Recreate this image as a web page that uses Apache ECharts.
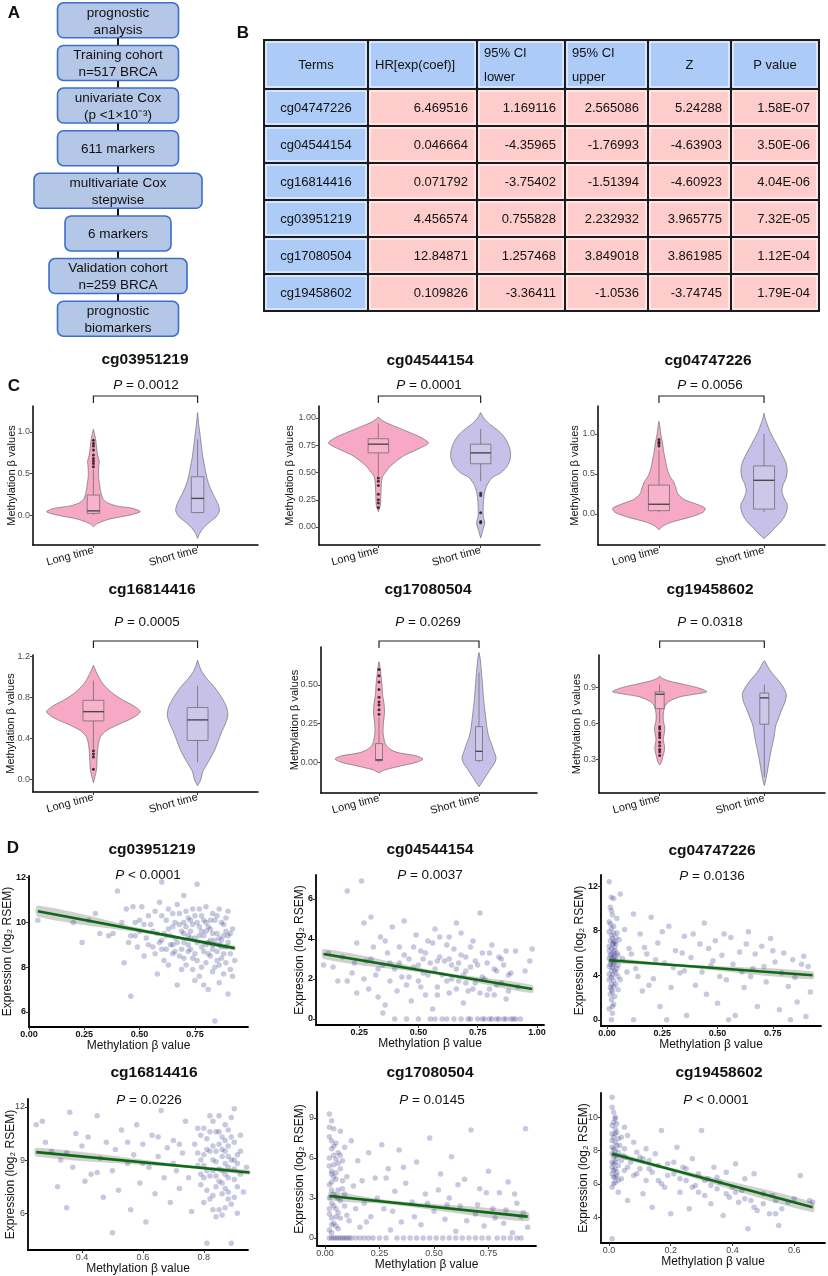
<!DOCTYPE html>
<html lang="en">
<head>
<meta charset="UTF-8">
<title>Prognostic methylation markers</title>
<style>
    html, body { margin: 0; padding: 0; background: #fff; }
    #main { width: 828px; height: 1276px; }
</style>
</head>
<body>
<div id="main"></div>
<script src="https://cdn.jsdelivr.net/npm/echarts@6/dist/echarts.min.js"></script>
<script>
// ---------- A: workflow ----------
var flowSteps = ['prognostic\nanalysis', 'Training cohort\nn=517 BRCA', 'univariate Cox\n(p <1×10⁻³)', '611 markers',
    'multivariate Cox\nstepwise', '6 markers', 'Validation cohort\nn=259 BRCA', 'prognostic\nbiomarkers'];

// ---------- B: multivariate Cox table ----------
var tableHeader = ['Terms', 'HR[exp(coef)]', '95% CI\nlower', '95% CI\nupper', 'Z', 'P value'];
var terms   = ['cg04747226', 'cg04544154', 'cg16814416', 'cg03951219', 'cg17080504', 'cg19458602'];
var hr      = ['6.469516', '0.046664', '0.071792', '4.456574', '12.84871', '0.109826'];
var ciLower = ['1.169116', '-4.35965', '-3.75402', '0.755828', '1.257468', '-3.36411'];
var ciUpper = ['2.565086', '-1.76993', '-1.51394', '2.232932', '3.849018', '-1.0536'];
var zScore  = ['5.24288', '-4.63903', '-4.60923', '3.965775', '3.861985', '-3.74745'];
var pValue  = ['1.58E-07', '3.50E-06', '4.04E-06', '7.32E-05', '1.12E-04', '1.79E-04'];

// ---------- C: violins (Long time vs Short time) ----------
var groups = ['Long time', 'Short time'];
var violinMarkers = ['cg03951219', 'cg04544154', 'cg04747226', 'cg16814416', 'cg17080504', 'cg19458602'];
var violinP = ['0.0012', '0.0001', '0.0056', '0.0005', '0.0269', '0.0318'];
// [beta value, half width] from bottom to top
var longShape = [
    [[-0.14,0],[-0.1,0.04],[-0.05,0.15],[0,0.35],[0.04,0.45],[0.08,0.38],[0.11,0.22],[0.15,0.13],[0.2,0.09],[0.28,0.07],[0.36,0.06],[0.46,0.05],[0.56,0.05],[0.65,0.055],[0.72,0.04],[0.82,0.03],[0.92,0.02],[0.98,0.01],[1.03,0]],
    [[0.14,0],[0.2,0.02],[0.3,0.025],[0.4,0.03],[0.46,0.04],[0.5,0.07],[0.55,0.11],[0.6,0.17],[0.66,0.26],[0.72,0.4],[0.77,0.49],[0.82,0.42],[0.87,0.3],[0.92,0.17],[0.96,0.07],[0.99,0.02],[1.01,0]],
    [[-0.2,0],[-0.15,0.04],[-0.1,0.13],[-0.04,0.3],[0.02,0.42],[0.07,0.44],[0.12,0.36],[0.18,0.24],[0.25,0.18],[0.33,0.16],[0.4,0.14],[0.48,0.1],[0.58,0.075],[0.68,0.06],[0.78,0.045],[0.88,0.035],[0.98,0.02],[1.08,0.01],[1.16,0]],
    [[-0.03,0],[0.03,0.015],[0.1,0.03],[0.2,0.035],[0.28,0.04],[0.36,0.05],[0.42,0.07],[0.48,0.13],[0.54,0.25],[0.6,0.38],[0.66,0.45],[0.72,0.38],[0.78,0.27],[0.85,0.17],[0.92,0.1],[0.98,0.06],[1.05,0.025],[1.11,0]],
    [[-0.07,0],[-0.05,0.06],[-0.02,0.25],[0,0.38],[0.02,0.44],[0.04,0.38],[0.06,0.2],[0.08,0.12],[0.11,0.07],[0.15,0.05],[0.2,0.04],[0.26,0.045],[0.32,0.055],[0.38,0.05],[0.44,0.035],[0.5,0.03],[0.56,0.02],[0.62,0.01],[0.65,0]],
    [[0.25,0],[0.28,0.02],[0.32,0.03],[0.37,0.045],[0.41,0.045],[0.46,0.035],[0.52,0.045],[0.56,0.05],[0.62,0.035],[0.68,0.035],[0.74,0.05],[0.78,0.09],[0.82,0.2],[0.86,0.45],[0.89,0.38],[0.92,0.24],[0.95,0.09],[0.97,0.03],[0.99,0]]
];
var shortShape = [
    [[-0.28,0],[-0.22,0.02],[-0.15,0.06],[-0.08,0.12],[-0.02,0.18],[0.05,0.21],[0.12,0.2],[0.2,0.17],[0.3,0.13],[0.4,0.1],[0.5,0.08],[0.6,0.065],[0.7,0.05],[0.8,0.04],[0.9,0.03],[1,0.02],[1.1,0.01],[1.23,0]],
    [[-0.1,0],[-0.05,0.015],[0,0.03],[0.04,0.04],[0.1,0.025],[0.2,0.025],[0.3,0.035],[0.38,0.06],[0.45,0.11],[0.5,0.2],[0.56,0.26],[0.63,0.29],[0.7,0.29],[0.78,0.26],[0.85,0.21],[0.9,0.15],[0.95,0.08],[1,0.03],[1.05,0]],
    [[-0.31,0],[-0.25,0.05],[-0.18,0.1],[-0.1,0.16],[-0.02,0.2],[0.06,0.22],[0.12,0.22],[0.2,0.19],[0.28,0.17],[0.36,0.18],[0.45,0.21],[0.55,0.22],[0.63,0.21],[0.72,0.18],[0.82,0.14],[0.92,0.1],[1.02,0.06],[1.12,0.03],[1.2,0.01],[1.26,0]],
    [[-0.06,0],[0,0.03],[0.08,0.05],[0.15,0.09],[0.22,0.13],[0.3,0.17],[0.38,0.2],[0.46,0.23],[0.55,0.27],[0.62,0.29],[0.7,0.28],[0.8,0.23],[0.9,0.16],[0.98,0.09],[1.05,0.04],[1.11,0.015],[1.16,0]],
    [[-0.16,0],[-0.13,0.03],[-0.09,0.07],[-0.04,0.12],[0,0.16],[0.03,0.17],[0.07,0.15],[0.11,0.13],[0.16,0.1],[0.22,0.08],[0.3,0.065],[0.38,0.05],[0.46,0.04],[0.54,0.03],[0.62,0.02],[0.68,0.01],[0.71,0]],
    [[0.08,0],[0.13,0.015],[0.2,0.03],[0.28,0.045],[0.35,0.06],[0.43,0.08],[0.5,0.095],[0.58,0.11],[0.65,0.14],[0.72,0.17],[0.78,0.2],[0.84,0.21],[0.9,0.18],[0.96,0.13],[1.01,0.08],[1.06,0.04],[1.1,0.015],[1.12,0]]
];
// [lower whisker, Q1, median, Q3, upper whisker]
var longBox  = [[0,0.02,0.05,0.24,0.55],[0.47,0.68,0.76,0.81,0.95],[0.02,0.04,0.12,0.36,0.8],[0.3,0.57,0.66,0.77,0.96],[0,0.01,0.015,0.12,0.29],[0.6,0.72,0.84,0.86,0.92]];
var shortBox = [[0.02,0.03,0.2,0.46,0.91],[0.42,0.58,0.68,0.76,0.9],[0.02,0.06,0.42,0.6,1.0],[0.17,0.38,0.58,0.7,0.91],[0,0.01,0.07,0.23,0.58],[0.15,0.59,0.81,0.85,0.92]];
var longOutliers = [
    [0.58,0.62,0.65,0.68,0.72,0.78,0.83,0.86,0.9],
    [0.18,0.22,0.25,0.3,0.38,0.42,0.45],
    [0.85,0.88,0.9,0.93],
    [0.1,0.22,0.25,0.28],
    [0.31,0.34,0.37,0.39,0.42,0.47,0.52,0.56,0.6],
    [0.33,0.36,0.38,0.41,0.44,0.48,0.5,0.52,0.55,0.57]
];
var shortOutliers = [[], [0.04,0.05,0.13,0.29,0.31], [], [], [], []];
var violinYRange = [[-0.36,1.31],[-0.165,1.11],[-0.39,1.35],[-0.12,1.21],[-0.2,0.746],[0.017,1.167]];
var violinTicks  = [[0,0.5,1],[0,0.25,0.5,0.75,1],[0,0.5,1],[0,0.4,0.8,1.2],[0,0.25,0.5],[0.3,0.6,0.9]];
var violinDigits = [1,2,1,1,2,1];

// ---------- D: expression vs methylation ----------
var scatterMarkers = ['cg03951219', 'cg04544154', 'cg04747226', 'cg16814416', 'cg17080504', 'cg19458602'];
var scatterP = ['< 0.0001', '= 0.0037', '= 0.0136', '= 0.0226', '= 0.0145', '< 0.0001'];
var pts03951219 = [[0.04,10.1],[0.2,10.0],[0.24,9.1],[0.27,10.1],[0.3,10.4],[0.32,9.5],[0.36,9.4],[0.38,9.5],[0.4,11.4],[0.42,10.0],[0.43,8.2],[0.44,10.6],[0.45,9.1],[0.46,6.7],[0.47,10.7],[0.48,9.4],[0.49,8.9],[0.5,10.1],[0.5,9.6],[0.51,10.7],[0.52,8.5],[0.53,9.3],[0.54,10.3],[0.55,9.9],[0.56,8.9],[0.57,10.5],[0.58,9.5],[0.58,7.7],[0.59,10.9],[0.6,9.2],[0.6,11.8],[0.61,8.3],[0.62,10.1],[0.63,9.7],[0.64,9.0],[0.65,10.4],[0.65,8.6],[0.66,9.3],[0.67,10.8],[0.67,7.2],[0.68,9.9],[0.69,8.8],[0.7,9.5],[0.7,11.2],[0.71,8.1],[0.72,10.2],[0.72,9.0],[0.73,9.6],[0.74,7.9],[0.74,10.6],[0.75,8.6],[0.75,9.3],[0.76,11.7],[0.77,9.8],[0.77,7.6],[0.78,8.9],[0.78,10.3],[0.79,9.4],[0.8,8.2],[0.8,10.0],[0.81,9.1],[0.81,7.0],[0.82,9.7],[0.82,8.5],[0.83,10.4],[0.83,9.0],[0.84,8.0],[0.84,5.6],[0.85,9.5],[0.85,8.7],[0.86,10.6],[0.86,7.3],[0.87,9.2],[0.87,8.4],[0.88,9.9],[0.88,7.7],[0.89,8.9],[0.9,9.4],[0.9,6.8],[0.91,8.6],[0.92,9.7],[0.92,7.6],[0.93,8.3],[0.62,9.4],[0.66,8.7],[0.7,8.4],[0.73,8.8],[0.76,9.1],[0.79,8.7],[0.83,8.8],[0.86,9.0],[0.89,9.6],[0.71,9.8],[0.76,10.0],[0.8,9.6],
    [0.56,9.6],[0.57,8.6],[0.59,9.1],[0.6,10.3],[0.61,9.5],[0.62,8.8],[0.63,10.6],[0.64,9.4],[0.65,9.8],[0.66,10.0],[0.67,9.1],[0.68,8.5],[0.68,10.4],[0.69,9.6],[0.7,9.1],[0.71,10.5],[0.72,8.7],[0.73,10.1],[0.73,9.3],[0.74,8.4],[0.74,9.9],[0.75,10.3],[0.76,8.3],[0.77,9.4],[0.77,10.6],[0.78,9.6],[0.78,8.0],[0.79,10.1],[0.8,9.0],[0.8,10.7],[0.81,9.8],[0.81,8.6],[0.82,10.1],[0.82,9.2],[0.83,9.5],[0.83,7.8],[0.84,9.2],[0.84,10.1],[0.85,8.3],[0.85,10.3],[0.86,9.3],[0.86,8.1],[0.87,10.0],[0.87,8.9],[0.88,9.4],[0.88,8.6],[0.89,10.2],[0.89,8.2],[0.9,9.1],[0.9,10.5],[0.91,9.5],[0.91,7.9],[0.52,9.9],[0.54,9.0],[0.48,10.0],[0.46,9.4],[0.63,8.1],[0.69,7.9],[0.75,7.4],[0.79,7.2],[0.65,9.0],[0.7,10.0],[0.72,9.4],[0.6,8.8]];
var pts04544154 = [[0.1,2.7],[0.12,3.3],[0.14,2.6],[0.16,1.9],[0.18,3.1],[0.2,1.9],[0.2,6.4],[0.22,2.3],[0.24,3.8],[0.24,1.3],[0.26,6.9],[0.27,4.8],[0.28,2.9],[0.29,1.5],[0.3,5.1],[0.31,3.6],[0.32,2.2],[0.33,1.1],[0.34,4.1],[0.35,2.7],[0.36,0.7],[0.37,3.3],[0.38,1.9],[0.39,4.6],[0.4,2.5],[0.41,1.4],[0.42,3.6],[0.43,2.1],[0.44,4.9],[0.45,1.7],[0.46,3.0],[0.47,0.9],[0.48,2.6],[0.49,4.2],[0.5,1.9],[0.51,3.4],[0.52,2.3],[0.53,1.2],[0.54,3.9],[0.55,2.8],[0.56,0.5],[0.57,4.5],[0.58,1.6],[0.59,3.1],[0.6,2.2],[0.6,0],[0.62,3.7],[0.63,1.3],[0.64,2.7],[0.65,0],[0.66,4.8],[0.67,1.9],[0.68,3.2],[0.69,0.8],[0.7,2.4],[0.71,0],[0.72,3.6],[0.73,1.5],[0.74,2.9],[0.75,0],[0.76,5.3],[0.77,2.1],[0.78,0],[0.79,1.2],[0.8,3.3],[0.81,0],[0.82,2.5],[0.83,1.7],[0.84,0],[0.85,3.0],[0.86,0],[0.87,1.0],[0.88,2.2],[0.89,0],[0.9,0],[0.91,3.4],[0.92,1.6],[0.93,0],[0.95,2.4],[0.97,2.9],[0.98,3.5],[0.5,0],[0.55,0],[0.45,0],[0.4,0],[0.35,0.3],[0.63,4.1],[0.58,2.9],[0.52,3.0],[0.66,2.5],[0.7,1.8],
    [0.42,2.8],[0.44,3.2],[0.46,2.1],[0.48,3.6],[0.5,2.7],[0.51,1.6],[0.53,3.3],[0.54,2.2],[0.56,3.8],[0.57,2.5],[0.58,1.2],[0.59,4.1],[0.61,2.9],[0.62,1.9],[0.63,3.0],[0.64,2.0],[0.65,3.5],[0.66,1.5],[0.67,2.8],[0.68,4.3],[0.69,2.2],[0.7,3.1],[0.71,1.4],[0.72,2.6],[0.73,3.9],[0.74,1.8],[0.75,2.7],[0.76,1.3],[0.77,3.3],[0.78,2.0],[0.79,2.8],[0.8,1.5],[0.81,3.7],[0.82,1.2],[0.83,2.4],[0.84,3.1],[0.85,1.8],[0.86,2.7],[0.87,3.4],[0.88,1.4],[0.89,2.3],[0.3,3.0],[0.33,2.5],[0.36,3.9],[0.38,2.8],[0.27,2.0],[0.23,2.8],[0.62,0],[0.68,0],[0.72,0],[0.77,0],[0.8,0],[0.83,0],[0.87,0],[0.91,0],[0.57,0]];
var pts04747226 = [[0.01,12.4],[0.02,11.0],[0.03,10.9],[0.015,10.1],[0.025,9.4],[0.01,8.8],[0.02,8.2],[0.03,7.8],[0.04,7.4],[0.015,7.1],[0.025,6.8],[0.035,6.5],[0.01,6.2],[0.02,5.9],[0.03,5.6],[0.04,5.3],[0.015,5.0],[0.025,4.7],[0.035,4.4],[0.01,4.1],[0.02,3.8],[0.03,3.5],[0.04,3.2],[0.015,2.9],[0.025,2.5],[0.035,2.1],[0.02,1.8],[0.03,1.4],[0.01,1.0],[0.025,0.6],[0.02,0],[0.045,6.0],[0.05,4.9],[0.055,7.2],[0.05,2.7],[0.045,9.1],[0.06,3.6],[0.06,11.3],[0.02,6.4],[0.03,6.9],[0.02,4.4],[0.03,5.1],[0.02,7.6],[0.01,5.5],[0.08,8.1],[0.1,6.4],[0.12,9.5],[0.13,4.6],[0.15,7.7],[0.16,2.6],[0.18,5.9],[0.2,9.2],[0.21,3.7],[0.23,6.9],[0.24,1.2],[0.26,5.1],[0.28,8.4],[0.29,2.9],[0.31,6.2],[0.33,4.2],[0.35,7.5],[0.36,0.4],[0.38,5.6],[0.4,3.1],[0.42,6.8],[0.44,8.7],[0.45,2.3],[0.47,4.9],[0.49,7.1],[0.5,1.5],[0.52,5.8],[0.54,3.6],[0.56,7.4],[0.58,0.4],[0.6,6.1],[0.62,2.9],[0.64,7.9],[0.66,4.6],[0.68,1.2],[0.7,6.6],[0.72,3.4],[0.74,7.3],[0.76,5.2],[0.78,0.9],[0.8,6.0],[0.82,3.0],[0.84,5.4],[0.86,1.6],[0.88,5.0],[0.9,0.3],[0.92,2.5],[0.27,0],[0.55,0],[0.83,0],[0.12,0],[0.65,3.9],[0.35,4.4],[0.19,3.1],[0.48,5.3],
    [0.01,6.6],[0.015,5.8],[0.02,5.2],[0.025,7.3],[0.03,4.9],[0.035,6.2],[0.02,3.2],[0.01,7.9],[0.03,8.4],[0.025,4.0],[0.015,2.3],[0.035,5.7],[0.04,6.8],[0.045,4.6],[0.01,3.6],[0.02,9.8],[0.03,3.0],[0.015,8.6],[0.025,5.5],[0.035,7.0],[0.04,4.2],[0.02,2.7],[0.03,6.0],[0.01,4.8],[0.05,5.8],[0.05,3.9],[0.045,7.8],[0.025,1.2],[0.07,5.5],[0.09,4.3],[0.11,5.9],[0.14,3.9],[0.17,6.5],[0.22,5.4],[0.25,7.9],[0.3,4.7],[0.34,6.0],[0.39,7.7],[0.43,4.3],[0.46,6.4],[0.51,3.9],[0.53,7.7],[0.57,5.0],[0.61,4.3],[0.63,6.8],[0.67,5.9],[0.71,4.8],[0.75,6.2],[0.79,4.2],[0.85,3.8],[0.89,5.7],[0.91,4.8]];
var pts16814416 = [[0.25,11.0],[0.27,11.2],[0.28,10.0],[0.3,9.5],[0.32,7.5],[0.33,9.0],[0.35,6.3],[0.36,11.7],[0.37,8.6],[0.38,10.5],[0.4,9.8],[0.41,7.8],[0.42,10.3],[0.43,8.2],[0.45,11.5],[0.46,9.1],[0.47,6.9],[0.48,10.0],[0.5,4.9],[0.5,8.4],[0.51,9.6],[0.52,7.3],[0.53,10.7],[0.55,8.8],[0.56,6.2],[0.57,9.3],[0.58,11.0],[0.59,7.7],[0.6,9.9],[0.61,5.5],[0.62,8.6],[0.63,10.4],[0.64,7.1],[0.65,9.2],[0.66,11.8],[0.67,8.0],[0.68,9.7],[0.69,6.6],[0.7,10.1],[0.71,8.4],[0.72,7.4],[0.73,9.4],[0.74,11.2],[0.75,8.0],[0.76,6.1],[0.77,9.9],[0.78,8.7],[0.78,10.8],[0.79,7.6],[0.8,9.3],[0.8,6.6],[0.81,4.3],[0.81,10.2],[0.82,8.1],[0.82,11.5],[0.83,7.0],[0.83,9.0],[0.84,5.8],[0.84,10.6],[0.85,8.5],[0.85,6.2],[0.86,9.6],[0.86,7.7],[0.87,11.0],[0.87,8.2],[0.88,6.8],[0.88,9.2],[0.89,4.3],[0.89,10.3],[0.9,7.9],[0.9,11.9],[0.91,8.8],[0.91,6.0],[0.92,9.5],[0.93,7.2],[0.94,8.6],[0.95,10.1],[0.85,9.9],[0.83,8.4],[0.87,9.5],[0.8,8.0],[0.86,7.1],[0.82,9.5],[0.88,8.0],[0.79,9.0],[0.84,8.9],[0.9,9.0],
    [0.78,9.4],[0.79,10.4],[0.8,8.7],[0.8,10.8],[0.81,7.3],[0.81,9.6],[0.82,6.8],[0.82,10.6],[0.83,9.8],[0.83,11.2],[0.84,7.5],[0.84,9.5],[0.85,10.6],[0.85,7.8],[0.86,8.4],[0.86,10.3],[0.86,5.9],[0.87,7.4],[0.87,10.1],[0.88,8.6],[0.88,10.7],[0.88,7.2],[0.89,9.0],[0.89,6.5],[0.89,11.4],[0.9,8.5],[0.9,10.0],[0.9,6.9],[0.91,9.3],[0.91,7.5],[0.92,8.2],[0.92,10.4],[0.85,11.5],[0.83,6.2],[0.87,6.3],[0.81,8.4],[0.79,8.2],[0.84,8.1],[0.86,9.2],[0.88,9.8],[0.87,8.8],[0.6,8.8],[0.65,10.3],[0.7,8.8],[0.72,9.9],[0.55,10.0],[0.45,8.3],[0.35,9.4]];
var pts17080504 = [[0.02,9.3],[0.03,8.8],[0.04,8.2],[0.02,7.6],[0.05,7.1],[0.03,6.7],[0.06,6.4],[0.02,6.0],[0.04,5.5],[0.07,5.2],[0.03,4.8],[0.05,4.4],[0.02,4.0],[0.08,3.7],[0.04,3.3],[0.06,3.0],[0.03,2.6],[0.05,2.2],[0.02,1.8],[0.07,1.5],[0.04,1.1],[0.06,0.7],[0.03,0.4],[0.02,0],[0.04,0],[0.06,0],[0.08,0],[0.1,0],[0.09,2.4],[0.1,4.6],[0.09,6.8],[0.11,1.3],[0.12,7.3],[0.05,5.9],[0.03,3.6],[0.05,1.6],[0.07,8.0],[0.13,3.9],[0.15,5.8],[0.16,0.8],[0.18,2.6],[0.2,6.4],[0.21,1.6],[0.23,4.5],[0.25,0],[0.26,7.0],[0.27,2.2],[0.29,5.2],[0.3,0.6],[0.32,3.5],[0.34,6.6],[0.35,1.2],[0.37,4.1],[0.39,0],[0.4,2.7],[0.42,5.7],[0.44,1.0],[0.46,3.3],[0.48,7.5],[0.5,2.0],[0.51,0],[0.53,4.8],[0.55,1.4],[0.57,3.0],[0.58,6.1],[0.6,0.5],[0.62,2.4],[0.64,4.4],[0.66,0],[0.67,8.1],[0.69,1.8],[0.71,3.7],[0.73,0.9],[0.75,5.0],[0.77,2.2],[0.79,0],[0.8,3.4],[0.82,1.1],[0.84,4.2],[0.86,0.4],[0.88,2.6],[0.9,1.6],[0.92,8.2],[0.93,0.8],[0.45,0],[0.57,0],[0.72,0],[0.85,0],[0.33,0],[0.2,0],
    [0.02,8.3],[0.03,7.3],[0.04,6.9],[0.02,5.4],[0.05,4.9],[0.03,4.2],[0.06,3.6],[0.02,3.0],[0.04,2.4],[0.07,2.8],[0.03,1.5],[0.05,0.9],[0.02,0.6],[0.06,5.6],[0.04,6.2],[0.08,4.3],[0.03,5.0],[0.05,3.1],[0.02,2.2],[0.07,6.2],[0.04,4.6],[0.03,1.0],[0.06,1.9],[0.08,5.8],[0.09,3.3],[0.1,1.7],[0.03,0],[0.05,0],[0.07,0],[0.09,0],[0.11,0],[0.12,0],[0.14,0],[0.16,0],[0.18,0],[0.22,0],[0.28,0],[0.36,0],[0.42,0],[0.48,0],[0.54,0],[0.6,0],[0.63,0],[0.69,0],[0.75,0],[0.82,0],[0.88,0],[0.9,0],[0.14,2.2],[0.17,4.3],[0.19,1.2],[0.24,3.0],[0.28,4.5],[0.31,2.0],[0.36,5.3],[0.41,1.6],[0.47,2.6],[0.52,3.6],[0.56,2.5],[0.61,4.0],[0.65,1.3],[0.7,2.5],[0.74,3.4],[0.78,1.5],[0.83,2.1],[0.87,3.3],[0.91,1.9]];
var pts19458602 = [[0.01,11.2],[0.015,10.3],[0.02,9.9],[0.01,9.5],[0.025,9.1],[0.015,8.8],[0.02,8.5],[0.01,8.2],[0.03,7.9],[0.015,7.6],[0.02,7.3],[0.01,7.0],[0.025,6.7],[0.015,6.4],[0.02,6.1],[0.01,5.8],[0.03,5.5],[0.01,2.7],[0.02,8.0],[0.01,7.8],[0.02,9.3],[0.015,6.8],[0.03,8.7],[0.04,7.4],[0.05,9.4],[0.04,6.3],[0.05,8.1],[0.06,5.0],[0.06,7.0],[0.08,8.5],[0.09,6.6],[0.1,7.6],[0.11,5.4],[0.12,8.1],[0.13,6.9],[0.14,4.6],[0.15,7.8],[0.16,6.2],[0.17,9.2],[0.18,5.8],[0.19,7.2],[0.2,4.2],[0.21,6.6],[0.22,8.2],[0.23,5.5],[0.24,7.0],[0.25,6.2],[0.26,4.5],[0.27,7.5],[0.28,5.9],[0.29,6.6],[0.3,9.2],[0.31,5.3],[0.32,6.3],[0.33,4.8],[0.34,7.0],[0.35,5.7],[0.36,6.1],[0.37,4.1],[0.38,6.7],[0.39,5.2],[0.4,5.8],[0.41,7.2],[0.42,4.9],[0.43,5.6],[0.44,6.3],[0.45,3.3],[0.46,5.0],[0.47,6.6],[0.48,4.4],[0.5,5.4],[0.52,4.2],[0.54,5.0],[0.55,3.5],[0.56,4.5],[0.6,5.1],[0.62,6.5],[0.66,4.9],
    [0.01,10.6],[0.015,9.7],[0.02,9.0],[0.025,8.3],[0.01,8.6],[0.015,8.1],[0.02,7.7],[0.025,7.5],[0.01,7.3],[0.015,7.2],[0.02,6.9],[0.025,6.5],[0.01,6.6],[0.015,6.0],[0.02,6.4],[0.01,9.0],[0.02,10.0],[0.025,9.6],[0.03,7.1],[0.03,6.2],[0.035,8.3],[0.04,8.8],[0.045,7.7],[0.05,6.8],[0.055,7.6],[0.06,8.9],[0.07,7.3],[0.08,6.5],[0.09,7.9],[0.1,6.9],[0.11,7.5],[0.12,6.2],[0.13,7.4],[0.14,6.7],[0.16,7.1],[0.17,6.0],[0.19,6.5],[0.21,7.3],[0.23,6.3],[0.25,6.9],[0.27,5.8],[0.29,5.5],[0.31,6.2],[0.33,5.9],[0.35,6.4],[0.38,5.4],[0.41,5.5],[0.44,5.1],[0.47,4.6],[0.5,4.8],[0.53,5.3],[0.58,4.9],[0.54,4.2],[0.65,5.0]];
var scatterPoints = [pts03951219, pts04544154, pts04747226, pts16814416, pts17080504, pts19458602];
var fitLines = [[[0.04,10.5],[0.93,8.85]], [[0.1,3.25],[0.98,1.5]], [[0.01,5.35],[0.93,4.0]], [[0.25,9.45],[0.95,8.3]], [[0.02,3.15],[0.93,1.6]], [[0.01,7.8],[0.66,4.6]]];
var bandX    = [[0.04,0.6,0.93],[0.1,0.6,0.98],[0.01,0.3,0.93],[0.25,0.75,0.95],[0.02,0.3,0.93],[0.01,0.2,0.66]];
var bandLow  = [[10.25,9.40,8.75],[3.0,2.18,1.3],[5.15,4.82,3.65],[9.2,8.55,8.18],[2.85,2.52,1.25],[7.68,6.76,4.3]];
var bandHigh = [[10.75,9.52,8.95],[3.5,2.34,1.7],[5.55,5.02,4.35],[9.7,8.71,8.42],[3.45,2.82,1.95],[7.92,6.96,4.9]];
var scatterXRange = [[0,0.99],[0.068,1.03],[-0.027,0.968],[0.223,0.945],[-0.037,0.968],[-0.026,0.7]];
var scatterYRange = [[5.33,12.07],[-0.3,7.2],[-0.55,13],[3.92,12.45],[-0.6,10.95],[2.45,11.45]];
var scatterXTicks = [[0,0.25,0.5,0.75],[0.25,0.5,0.75,1],[0,0.25,0.5,0.75],[0.4,0.6,0.8],[0,0.25,0.5,0.75],[0,0.2,0.4,0.6]];
var scatterYTicks = [[6,8,10,12],[0,2,4,6],[0,4,8,12],[6,9,12],[0,3,6,9],[4,6,8,10]];
var scatterXDigits = [2,2,2,1,2,1];

// ---------- layout ----------
var FONT = 'Arial, "Liberation Sans", Helvetica, sans-serif';
var flowWidths = [121, 121, 121, 121, 168, 106, 138, 121];
var colWidths = [104, 109, 88, 83, 83, 88];
var headerH = 49, rowH = 37;
var violinLayout = [
    {left: 33,  top: 406, width: 225, height: 139, titleX: 145, titleY: 360, pX: 146, pY: 385, bracketTop: 396, nameGap: 16, boxHalf: 0.06},
    {left: 319, top: 406, width: 221, height: 139, titleX: 430, titleY: 361, pX: 429, pY: 385, bracketTop: 396, nameGap: 24, boxHalf: 0.1},
    {left: 598, top: 406, width: 227, height: 139, titleX: 708, titleY: 361, pX: 710, pY: 385, bracketTop: 396, nameGap: 18, boxHalf: 0.1},
    {left: 33,  top: 655, width: 225, height: 137, titleX: 152, titleY: 590, pX: 147, pY: 622, bracketTop: 641, nameGap: 17, boxHalf: 0.1},
    {left: 321, top: 647, width: 216, height: 146, titleX: 428, titleY: 590, pX: 428, pY: 622, bracketTop: 641, nameGap: 21, boxHalf: 0.035},
    {left: 599, top: 655, width: 226, height: 138, titleX: 710, titleY: 590, pX: 710, pY: 622, bracketTop: 641, nameGap: 17, boxHalf: 0.043}
];
var scatterLayout = [
    {left: 29,  top: 876,  width: 219, height: 151, titleX: 152, titleY: 850,  pX: 148, pY: 875,  nameGap: 15, xGap: 10, bold: true},
    {left: 316, top: 875,  width: 228, height: 150, titleX: 430, titleY: 850,  pX: 430, pY: 875,  nameGap: 10, xGap: 10, bold: true},
    {left: 601, top: 875,  width: 220, height: 151, titleX: 712, titleY: 851,  pX: 712, pY: 876,  nameGap: 15, xGap: 10, bold: true},
    {left: 28,  top: 1099, width: 220, height: 151, titleX: 154, titleY: 1073, pX: 149, pY: 1100, nameGap: 11, xGap: 12, bold: false},
    {left: 317, top: 1092, width: 219, height: 154, titleX: 430, titleY: 1073, pX: 432, pY: 1100, nameGap: 11, xGap: 12, bold: false},
    {left: 601, top: 1093, width: 224, height: 150, titleX: 719, titleY: 1073, pX: 716, pY: 1100, nameGap: 11, xGap: 12, bold: false}
];

var grids = [], xAxes = [], yAxes = [], series = [], texts = [];

function addGrid(box) {
    grids.push({left: box.left, top: box.top, width: box.width, height: box.height, containLabel: false, outerBoundsMode: 'none'});
    return grids.length - 1;
}
function addText(x, y, text, size, bold, extra) {
    var t = {type: 'text', x: x, y: y, z: 50, style: {text: text, fontSize: size, fontWeight: bold ? 'bold' : 'normal',
        fontFamily: FONT, fill: '#111', align: 'center', verticalAlign: 'middle',
        rich: {i: {fontStyle: 'italic', fontSize: size, fontFamily: FONT, fill: '#111'}}}};
    if (extra) Object.assign(t.style, extra);
    texts.push(t);
}

// panel letters
addText(14, 13, 'A', 17, true);
addText(243, 33, 'B', 17, true);
addText(14, 386, 'C', 17, true);
addText(13, 848, 'D', 17, true);

// ---- A: flowchart ----
var gA = addGrid({left: 0, top: -1, width: 236, height: 341});
xAxes.push({gridIndex: gA, type: 'value', min: 0, max: 1, show: false});
yAxes.push({gridIndex: gA, type: 'value', min: -0.5, max: 7.5, inverse: true, show: false});
series.push({
    type: 'custom', xAxisIndex: xAxes.length - 1, yAxisIndex: yAxes.length - 1, silent: true,
    data: flowSteps.map(function (s, i) { return [0.5, i]; }),
    renderItem: function (params, api) {
        var i = params.dataIndex, c = api.coord([0.5, i]), w = flowWidths[i], h = 35;
        var children = [];
        if (i < flowSteps.length - 1) {
            var n = api.coord([0.5, i + 1]);
            children.push({type: 'line', shape: {x1: c[0], y1: c[1] + h / 2, x2: n[0], y2: n[1] - h / 2}, style: {stroke: '#111', lineWidth: 2}});
        }
        children.push({type: 'rect', shape: {x: c[0] - w / 2, y: c[1] - h / 2, width: w, height: h, r: 6},
            style: {fill: '#B4C7E7', stroke: '#3C6FC8', lineWidth: 1.6}});
        children.push({type: 'text', x: c[0], y: c[1] + 1, style: {text: flowSteps[i], align: 'center', verticalAlign: 'middle',
            fontSize: 13.5, fontFamily: FONT, fill: '#111', lineHeight: 17}});
        return {type: 'group', children: children};
    }
});

// ---- B: table ----
var tableCols = [terms, hr, ciLower, ciUpper, zScore, pValue];
var tableW = colWidths.reduce(function (a, b) { return a + b; }, 0);
var tableH = headerH + rowH * terms.length;
var gB = addGrid({left: 264, top: 40, width: tableW, height: tableH});
xAxes.push({gridIndex: gB, type: 'value', min: 0, max: tableW, show: false});
yAxes.push({gridIndex: gB, type: 'value', min: 0, max: tableH, inverse: true, show: false});
var tableCells = [];
for (var r = 0; r <= terms.length; r++) for (var c = 0; c < tableHeader.length; c++) tableCells.push([c, r]);
series.push({
    type: 'custom', xAxisIndex: xAxes.length - 1, yAxisIndex: yAxes.length - 1, silent: true,
    data: tableCells,
    renderItem: function (params, api) {
        var c = api.value(0), r = api.value(1);
        var x0 = 0; for (var k = 0; k < c; k++) x0 += colWidths[k];
        var y0 = r === 0 ? 0 : headerH + (r - 1) * rowH;
        var p0 = api.coord([x0, y0]), p1 = api.coord([x0 + colWidths[c], y0 + (r === 0 ? headerH : rowH)]);
        var w = p1[0] - p0[0], h = p1[1] - p0[1];
        var blue = r === 0 || c === 0;
        var txt = r === 0 ? tableHeader[c] : tableCols[c][r - 1];
        var tx, align;
        if (r === 0 && (c === 1 || c === 2 || c === 3)) { tx = p0[0] + 7; align = 'left'; }
        else if (r > 0 && c > 0) { tx = p1[0] - 9; align = 'right'; }
        else { tx = p0[0] + w / 2; align = 'center'; }
        return {type: 'group', children: [
            {type: 'rect', shape: {x: p0[0], y: p0[1], width: w, height: h}, style: {fill: blue ? '#ADCBF7' : '#FFCCCC', stroke: '#1b1b1b', lineWidth: 2}},
            {type: 'rect', shape: {x: p0[0] + 2, y: p0[1] + 2, width: w - 4, height: h - 4}, style: {fill: 'none', stroke: '#ffffff', lineWidth: 1}},
            {type: 'text', x: tx, y: p0[1] + h / 2 + 1, style: {text: txt, align: align, verticalAlign: 'middle',
                fontSize: 13, fontFamily: FONT, fill: '#111', lineHeight: 24}}
        ]};
    }
});

// ---- C: violins ----
function violinRenderer(k) {
    return function (params, api) {
        var g = api.value(0);
        var shape = g === 1 ? longShape[k] : shortShape[k];
        var box = g === 1 ? longBox[k] : shortBox[k];
        var bh = violinLayout[k].boxHalf;
        var pts = [], i;
        for (i = 0; i < shape.length; i++) pts.push(api.coord([g + shape[i][1], shape[i][0]]));
        for (i = shape.length - 1; i >= 0; i--) pts.push(api.coord([g - shape[i][1], shape[i][0]]));
        var lo = api.coord([g, box[0]]), q1 = api.coord([g - bh, box[1]]), md = api.coord([g - bh, box[2]]),
            q3 = api.coord([g + bh, box[3]]), hi = api.coord([g, box[4]]), mdR = api.coord([g + bh, box[2]]);
        var edge = '#6f6f6f';
        return {type: 'group', children: [
            {type: 'polygon', shape: {points: pts, smooth: 0.25}, style: {fill: g === 1 ? '#F7A8C4' : '#C7C0E8', stroke: edge, lineWidth: 0.7}},
            {type: 'line', shape: {x1: lo[0], y1: lo[1], x2: lo[0], y2: q1[1]}, style: {stroke: edge, lineWidth: 0.8}},
            {type: 'line', shape: {x1: hi[0], y1: q3[1], x2: hi[0], y2: hi[1]}, style: {stroke: edge, lineWidth: 0.8}},
            {type: 'rect', shape: {x: q1[0], y: q3[1], width: q3[0] - q1[0], height: q1[1] - q3[1]}, style: {fill: 'rgba(255,255,255,0.12)', stroke: edge, lineWidth: 0.8}},
            {type: 'line', shape: {x1: md[0], y1: md[1], x2: mdR[0], y2: md[1]}, style: {stroke: '#4a4a4a', lineWidth: 1.4}}
        ]};
    };
}
function bracketRenderer(k) {
    return function (params, api) {
        var a = api.coord([1, violinYRange[k][0]]), b = api.coord([2, violinYRange[k][0]]);
        var t = violinLayout[k].bracketTop;
        return {type: 'polyline', shape: {points: [[a[0], t + 7], [a[0], t], [b[0], t], [b[0], t + 7]]},
            style: {stroke: '#222', lineWidth: 1.2, fill: 'none'}};
    };
}
violinMarkers.forEach(function (m, k) {
    var L = violinLayout[k];
    var gi = addGrid(L);
    xAxes.push({gridIndex: gi, type: 'value', min: 0.42, max: 2.58,
        axisLine: {onZero: false, lineStyle: {color: '#000', width: 1.5}},
        axisTick: {customValues: [1, 2], length: 3, lineStyle: {color: '#333'}},
        axisLabel: {customValues: [1, 2], formatter: function (v) { return groups[Math.round(v) - 1]; },
            rotate: 15, fontSize: 11, color: '#111', margin: 5, fontFamily: FONT},
        splitLine: {show: false}});
    yAxes.push({gridIndex: gi, type: 'value', min: violinYRange[k][0], max: violinYRange[k][1],
        name: 'Methylation β values', nameLocation: 'middle', nameGap: L.nameGap, nameMoveOverlap: false,
        nameTextStyle: {fontSize: 11, color: '#111', fontFamily: FONT},
        axisLine: {show: true, onZero: false, lineStyle: {color: '#000', width: 1.5}},
        axisTick: {show: true, customValues: violinTicks[k], length: 3, lineStyle: {color: '#444'}},
        axisLabel: {customValues: violinTicks[k], formatter: function (v) { return v.toFixed(violinDigits[k]); },
            fontSize: 9, color: '#4d4d4d', margin: 3, fontFamily: FONT},
        splitLine: {show: false}});
    var xi = xAxes.length - 1, yi = yAxes.length - 1;
    series.push({type: 'custom', xAxisIndex: xi, yAxisIndex: yi, silent: true, clip: false,
        data: [[1, 0], [2, 0]], renderItem: violinRenderer(k)});
    series.push({type: 'scatter', xAxisIndex: xi, yAxisIndex: yi, silent: true, symbolSize: 3,
        itemStyle: {color: '#111'}, data: longOutliers[k].map(function (y) { return [1, y]; })
            .concat(shortOutliers[k].map(function (y) { return [2, y]; }))});
    series.push({type: 'custom', xAxisIndex: xi, yAxisIndex: yi, silent: true, clip: false,
        data: [[1, 0]], renderItem: bracketRenderer(k)});
    addText(L.titleX, L.titleY, m, 15.5, true);
    addText(L.pX, L.pY, '{i|P} = ' + violinP[k], 13.5, false);
});

// ---- D: scatter + fit ----
function bandRenderer(k) {
    return function (params, api) {
        var pts = [], i;
        for (i = 0; i < bandX[k].length; i++) pts.push(api.coord([bandX[k][i], bandHigh[k][i]]));
        for (i = bandX[k].length - 1; i >= 0; i--) pts.push(api.coord([bandX[k][i], bandLow[k][i]]));
        return {type: 'polygon', shape: {points: pts, smooth: 0.3}, style: {fill: 'rgba(150,150,150,0.45)'}};
    };
}
scatterMarkers.forEach(function (m, k) {
    var L = scatterLayout[k];
    var gi = addGrid(L);
    var tickColor = L.bold ? '#111' : '#444';
    xAxes.push({gridIndex: gi, type: 'value', min: scatterXRange[k][0], max: scatterXRange[k][1],
        name: 'Methylation β value', nameLocation: 'middle', nameGap: L.xGap,
        nameTextStyle: {fontSize: 12, color: '#111', fontFamily: FONT, verticalAlign: 'top'},
        axisLine: {onZero: false, lineStyle: {color: '#000', width: 1.8}},
        axisTick: {customValues: scatterXTicks[k], length: 3, lineStyle: {color: '#333'}},
        axisLabel: {customValues: scatterXTicks[k], formatter: function (v) { return v.toFixed(scatterXDigits[k]); },
            fontSize: 9, fontWeight: L.bold ? 'bold' : 'normal', color: tickColor, margin: 3, fontFamily: FONT},
        splitLine: {show: false}});
    yAxes.push({gridIndex: gi, type: 'value', min: scatterYRange[k][0], max: scatterYRange[k][1],
        name: 'Expression (log₂ RSEM)', nameLocation: 'middle', nameGap: L.nameGap, nameMoveOverlap: false,
        nameTextStyle: {fontSize: 12, color: '#111', fontFamily: FONT},
        axisLine: {show: true, onZero: false, lineStyle: {color: '#000', width: 1.8}},
        axisTick: {show: true, customValues: scatterYTicks[k], length: 3, lineStyle: {color: '#333'}},
        axisLabel: {customValues: scatterYTicks[k], formatter: function (v) { return String(v); },
            fontSize: 9, fontWeight: L.bold ? 'bold' : 'normal', color: tickColor, margin: 3, fontFamily: FONT},
        splitLine: {show: false}});
    var xi = xAxes.length - 1, yi = yAxes.length - 1;
    series.push({type: 'scatter', xAxisIndex: xi, yAxisIndex: yi, silent: true, symbolSize: 5.5,
        itemStyle: {color: 'rgba(30,30,125,0.3)'}, data: scatterPoints[k]});
    series.push({type: 'custom', xAxisIndex: xi, yAxisIndex: yi, silent: true, data: [[0, 0]], renderItem: bandRenderer(k)});
    series.push({type: 'line', xAxisIndex: xi, yAxisIndex: yi, silent: true, showSymbol: false, symbol: 'none',
        lineStyle: {color: '#0b6a12', width: 2.6}, data: fitLines[k]});
    addText(L.titleX, L.titleY, m, 15.5, true);
    addText(L.pX, L.pY, '{i|P} ' + scatterP[k], 13.5, false);
});

var myChart = echarts.init(document.getElementById('main'));
myChart.setOption({
    animation: false,
    backgroundColor: '#ffffff',
    textStyle: {fontFamily: FONT},
    grid: grids,
    xAxis: xAxes,
    yAxis: yAxes,
    series: series,
    graphic: {elements: texts}
});
</script>
</body>
</html>
